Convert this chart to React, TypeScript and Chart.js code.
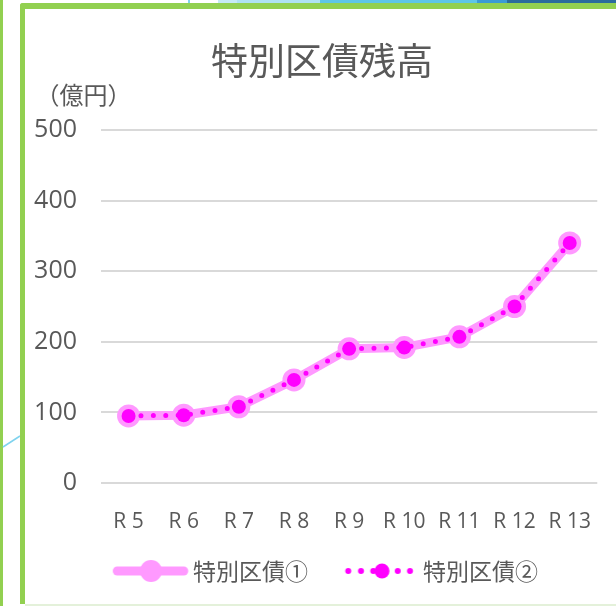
import React, { useEffect, useRef } from 'react';
import { Chart, registerables } from 'chart.js';

Chart.register(...registerables);

// ---- data ----
const categories = ['R5', 'R6', 'R7', 'R8', 'R9', 'R10', 'R11', 'R12', 'R13'];
const series1Values = [95, 96, 108, 146, 190, 192, 207, 250, 340];
const series2Values = [95, 96, 108, 146, 190, 192, 207, 250, 340];
const series1Name = '特別区債①';
const series2Name = '特別区債②';
const chartTitle = '特別区債残高';
const unitLabel = '（億円）';
const yTickValues = [0, 100, 200, 300, 400, 500];

// ---- styles ----
const TEXT = '#595959';
const PINK = '#ff99ff';
const MAGENTA = '#ff00ff';
const GREEN = '#92d050';
const LATIN = '"Open Sans", "Noto Sans CJK JP", sans-serif';
const CJK = '"Noto Sans CJK JP", "Noto Sans", sans-serif';

function makeSample(kind: number): HTMLCanvasElement {
  const c = document.createElement('canvas');
  c.width = 92;
  c.height = 26;
  const ctx = c.getContext('2d')!;
  const cy = 13;
  if (kind === 0) {
    ctx.strokeStyle = PINK;
    ctx.lineWidth = 9;
    ctx.lineCap = 'round';
    ctx.beginPath();
    ctx.moveTo(19.5, cy);
    ctx.lineTo(86, cy);
    ctx.stroke();
    ctx.fillStyle = PINK;
    ctx.beginPath();
    ctx.arc(53.25, cy, 11, 0, Math.PI * 2);
    ctx.fill();
  } else {
    ctx.fillStyle = MAGENTA;
    [20.5, 33.25, 45.5, 70, 82.25].forEach((x) => {
      ctx.beginPath();
      ctx.arc(x, cy, 3, 0, Math.PI * 2);
      ctx.fill();
    });
    ctx.beginPath();
    ctx.arc(54.25, cy, 7.5, 0, Math.PI * 2);
    ctx.fill();
  }
  return c;
}

const unitPlugin = {
  id: 'unitLabel',
  afterDraw(chart: any) {
    const ctx = chart.ctx;
    ctx.save();
    ctx.font = '24px ' + CJK;
    ctx.fillStyle = TEXT;
    ctx.textAlign = 'center';
    ctx.textBaseline = 'middle';
    ctx.fillText(unitLabel, 57.4, 85.7);
    ctx.restore();
  },
};

export default function App() {
  const ref = useRef<HTMLCanvasElement>(null);

  useEffect(() => {
    document.body.style.margin = '0';
    const samples = [makeSample(0), makeSample(1)];
    const chart = new Chart(ref.current!, {
      type: 'line',
      data: {
        labels: categories,
        datasets: [
          {
            label: series1Name,
            data: series1Values,
            borderColor: PINK,
            backgroundColor: PINK,
            borderWidth: 9,
            borderCapStyle: 'round',
            borderJoinStyle: 'round',
            pointRadius: 11.5,
            pointBackgroundColor: PINK,
            pointBorderWidth: 0,
            tension: 0,
            order: 1,
            yAxisID: 'y',
          },
          {
            label: series2Name,
            data: series2Values,
            borderColor: MAGENTA,
            backgroundColor: MAGENTA,
            borderWidth: 5,
            borderDash: [0, 12.4],
            borderCapStyle: 'round',
            pointRadius: 7,
            pointBackgroundColor: MAGENTA,
            pointBorderWidth: 0,
            tension: 0,
            order: 0,
            yAxisID: 'y',
          },
        ],
      },
      options: {
        responsive: false,
        animation: false,
        devicePixelRatio: 1,
        layout: { padding: { left: 0, right: 0, top: 0, bottom: 11.5 } },
        plugins: {
          title: {
            display: true,
            text: chartTitle,
            color: TEXT,
            font: { family: CJK, size: 37, weight: 'normal', lineHeight: 1 },
            padding: { top: 33.5, bottom: 50.5 },
          },
          legend: {
            position: 'bottom',
            labels: {
              usePointStyle: true,
              pointStyleWidth: 75.5,
              boxHeight: 23,
              padding: 28,
              color: TEXT,
              font: { family: CJK, size: 23 },
              generateLabels: (ch: any) =>
                ch.data.datasets.map((ds: any, i: number) => ({
                  text: ds.label,
                  pointStyle: samples[i],
                  fontColor: TEXT,
                  hidden: false,
                  datasetIndex: i,
                  lineWidth: 0,
                })),
            },
          },
          tooltip: { enabled: false },
        },
        scales: {
          x: {
            type: 'category',
            offset: true,
            grid: { display: false, drawTicks: false },
            border: { display: false },
            ticks: {
              color: TEXT,
              font: { family: LATIN, size: 21 },
              padding: 26.1,
              maxRotation: 0,
              autoSkip: false,
              callback: function (this: any, v: any) {
                return String(this.getLabelForValue(v)).replace(/^R/, 'R ');
              },
            },
            afterFit: (s: any) => {
              s.height = 48.5;
            },
          },
          y: {
            position: 'left',
            min: yTickValues[0],
            max: yTickValues[yTickValues.length - 1],
            grid: { color: '#d9d9d9', lineWidth: 2, drawTicks: false },
            border: { display: false },
            ticks: {
              stepSize: yTickValues[1] - yTickValues[0],
              color: TEXT,
              font: { family: LATIN, size: 25 },
              padding: 24,
            },
            afterFit: (s: any) => {
              s.width = 75;
            },
          },
          yRightSpace: {
            type: 'linear',
            position: 'right',
            display: true,
            grid: { display: false, drawTicks: false },
            border: { display: false },
            ticks: { display: false },
            afterFit: (s: any) => {
              s.width = 18;
            },
          },
        },
      },
      plugins: [unitPlugin],
    } as any);
    return () => chart.destroy();
  }, []);

  return (
    <div
      style={{
        position: 'fixed',
        left: 0,
        top: 0,
        width: 616,
        height: 606,
        overflow: 'hidden',
        background: '#ffffff',
      }}
    >
      {/* outer left green line */}
      <div style={{ position: 'absolute', left: 0, top: 0, width: 2.5, height: 606, background: GREEN }} />
      {/* diagonal decoration */}
      <svg style={{ position: 'absolute', left: 0, top: 0 }} width={20} height={606}>
        <line x1={3} y1={447} x2={20} y2={436} stroke="#7fd3ee" strokeWidth={1.5} />
      </svg>
      {/* top bars */}
      <div style={{ position: 'absolute', left: 188, top: 0, width: 2, height: 4, background: '#7fd3ee' }} />
      <div style={{ position: 'absolute', left: 218, top: 0, width: 19, height: 3, background: '#c5eaf5' }} />
      <div style={{ position: 'absolute', left: 237, top: 0, width: 83, height: 3, background: '#aee2f3' }} />
      <div style={{ position: 'absolute', left: 320, top: 0, width: 157, height: 3, background: '#5ec6e6' }} />
      <div style={{ position: 'absolute', left: 477, top: 0, width: 30, height: 3, background: '#3a9bd5' }} />
      <div style={{ position: 'absolute', left: 507, top: 0, width: 109, height: 3, background: '#2a6c9c' }} />
      {/* green frame */}
      <div
        style={{
          position: 'absolute',
          left: 20,
          top: 3,
          width: 640,
          height: 601,
          borderTop: '6px solid ' + GREEN,
          borderLeft: '5px solid ' + GREEN,
          borderTopLeftRadius: 3,
          boxSizing: 'border-box',
          background: '#ffffff',
        }}
      />
      <div style={{ position: 'absolute', left: 25, top: 604, width: 600, height: 2, background: '#e4f1da' }} />
      <div style={{ position: 'absolute', left: 26, top: 9 }}>
        <canvas ref={ref} width={592} height={595} style={{ display: 'block' }} />
      </div>
    </div>
  );
}
